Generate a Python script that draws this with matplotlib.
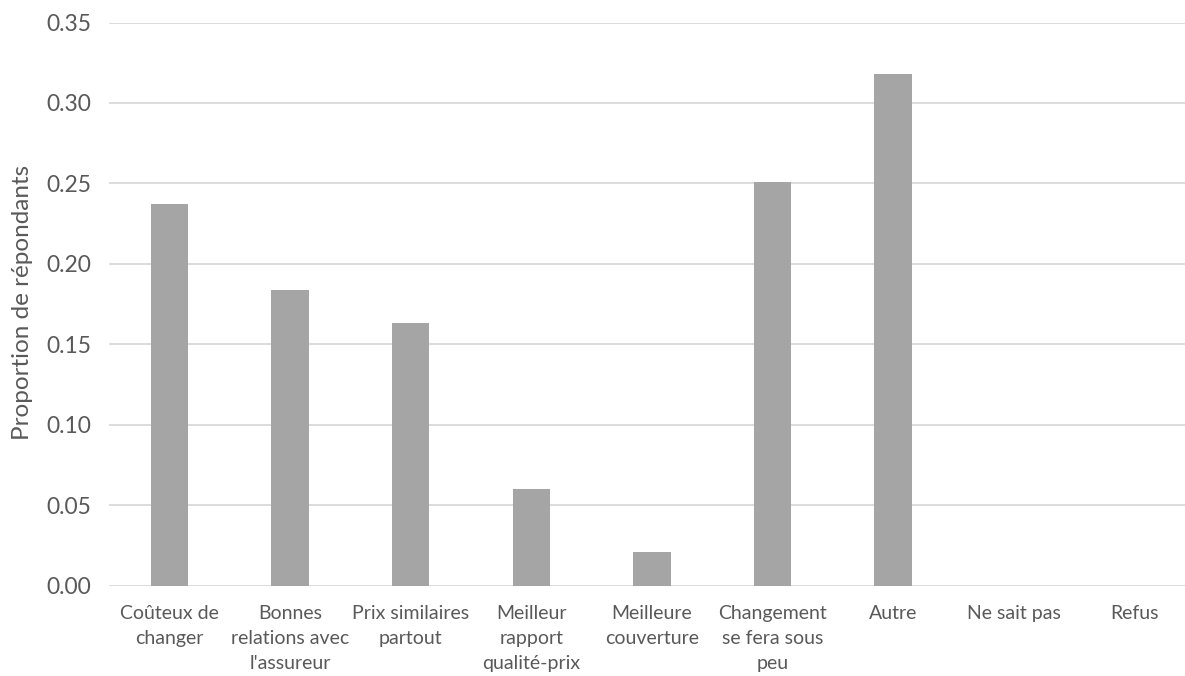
import matplotlib
matplotlib.use("Agg")
import matplotlib.pyplot as plt

categories = [
    "Coûteux de\nchanger",
    "Bonnes\nrelations avec\nl'assureur",
    "Prix similaires\npartout",
    "Meilleur\nrapport\nqualité-prix",
    "Meilleure\ncouverture",
    "Changement\nse fera sous\npeu",
    "Autre",
    "Ne sait pas",
    "Refus",
]
values = [0.237, 0.184, 0.163, 0.060, 0.021, 0.251, 0.318, 0.0, 0.0]
yticks = [0.00, 0.05, 0.10, 0.15, 0.20, 0.25, 0.30, 0.35]

text_color = "#595959"
plt.rcParams["font.family"] = ["Lato", "DejaVu Sans"]

fig = plt.figure(figsize=(11.85, 6.76), dpi=100)
ax = fig.add_axes([109 / 1185, 1 - 585.5 / 676, (1185 - 109) / 1185, (585.5 - 22.5) / 676])

x = list(range(len(categories)))
ax.bar(x, values, width=0.31, color="#a5a5a5", zorder=3)

ax.set_ylim(0, 0.35)
ax.set_xlim(-0.5, 8.42)
ax.set_yticks(yticks)
ax.set_yticklabels([f"{v:.2f}" for v in yticks], fontsize=16.5, color=text_color)
ax.set_xticks(x)
ax.set_xticklabels(categories, fontsize=14, color=text_color, linespacing=1.56)
ax.tick_params(axis="both", length=0)
ax.tick_params(axis="y", pad=13)
ax.tick_params(axis="x", pad=14)
ax.yaxis.grid(True, color="#d9d9d9", linewidth=1.3, zorder=0)
for s in ax.spines.values():
    s.set_visible(False)

ax.set_ylabel("Proportion de répondants", fontsize=17.5, color=text_color)
ax.yaxis.set_label_coords(-0.0706, 0.502)

fig.savefig("out.png", dpi=100)
